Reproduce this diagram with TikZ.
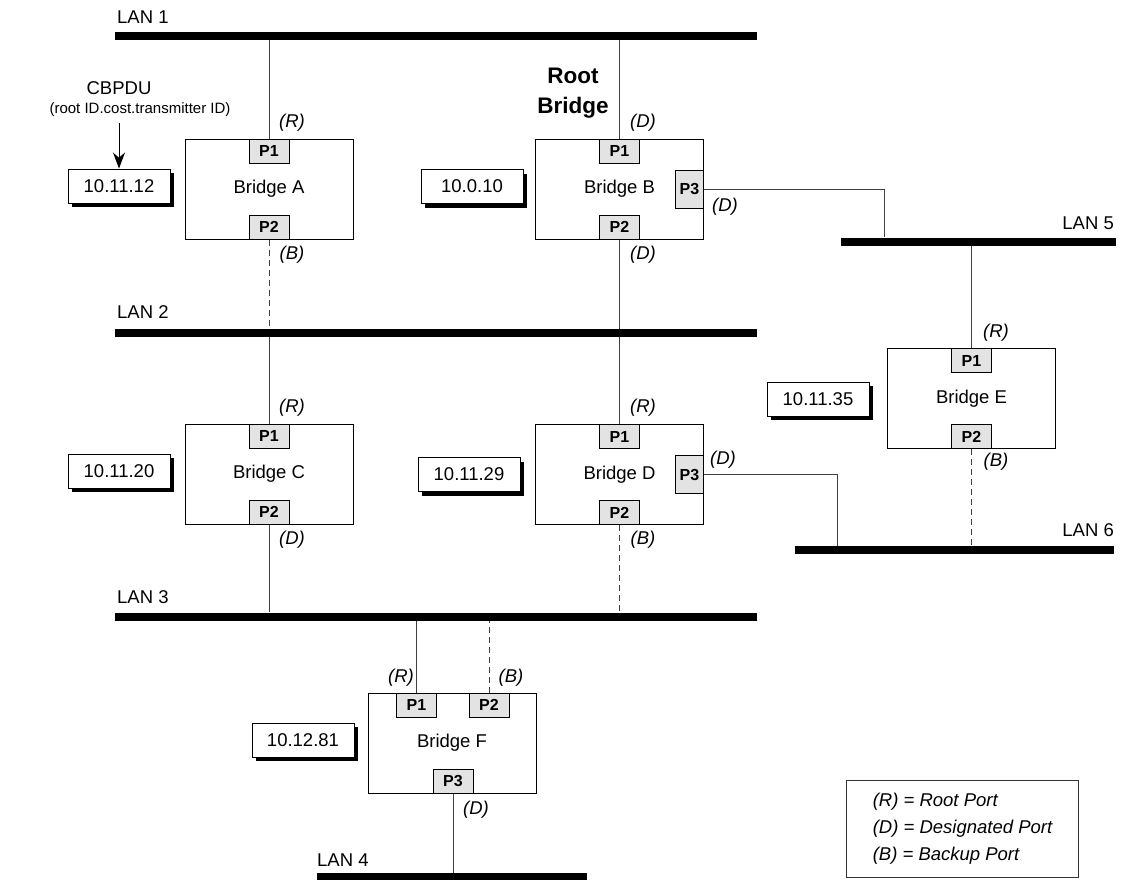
\documentclass[tikz,border=0pt]{standalone}
\usepackage{fontspec}
\setmainfont{Liberation Sans}
\usetikzlibrary{arrows.meta,shadows}

\tikzset{
  base/.style={font=\fontsize{18.5}{22}\selectfont},
  lan/.style={fill=black, inner sep=0pt, minimum height=8pt},
  lanlabel/.style={base, inner sep=0pt},
  bridge/.style={base, draw, line width=1pt, minimum width=168pt, minimum height=100pt},
  port/.style={draw, line width=1pt, fill=gray!22, font=\bfseries\fontsize{16}{18}\selectfont,
    minimum width=40pt, minimum height=24pt, inner sep=0pt},
  sideport/.style={port, minimum width=28pt, minimum height=38pt},
  idbox/.style={base, draw, line width=1pt, fill=white, minimum width=102pt, minimum height=34pt,
    drop shadow={shadow xshift=4pt, shadow yshift=-4pt, fill=black, opacity=1}},
  role/.style={font=\itshape\fontsize{18.5}{22}\selectfont},
  wire/.style={draw=black!75, line width=1pt},
  backup/.style={wire, dash pattern=on 6pt off 4pt},
}

\begin{document}
\begin{tikzpicture}[x=1pt, y=-1pt, >={Stealth[length=16pt,width=12pt]}]
    \useasboundingbox (0,0) rectangle (1122,879);

    % LAN segments
    \node[lan, minimum width=642pt] (lan1) at (436,36) {};
    \node[lan, minimum width=642pt] (lan2) at (436,333) {};
    \node[lan, minimum width=642pt] (lan3) at (436,616.5) {};
    \node[lan, minimum width=270pt] (lan4) at (452,877) {};
    \node[lan, minimum width=275pt] (lan5) at (978,241.5) {};
    \node[lan, minimum width=319pt] (lan6) at (954.5,550) {};
    \node[lanlabel, anchor=west] (lan1l) at (117,17) {LAN 1};
    \node[lanlabel, anchor=west] (lan2l) at (117,312) {LAN 2};
    \node[lanlabel, anchor=west] (lan3l) at (117,597) {LAN 3};
    \node[lanlabel, anchor=west] (lan4l) at (317,860) {LAN 4};
    \node[lanlabel, anchor=east] (lan5l) at (1114,223) {LAN 5};
    \node[lanlabel, anchor=east] (lan6l) at (1114,530) {LAN 6};

    % Bridges and their ports
    \node[bridge] (brA) at (269,189) {Bridge A};
    \node[port, anchor=north] (a1) at (brA.north) {P1};
    \node[port, anchor=south] (a2) at (brA.south) {P2};

    \node[bridge] (brB) at (619.5,189) {Bridge B};
    \node[port, anchor=north] (b1) at (brB.north) {P1};
    \node[port, anchor=south] (b2) at (brB.south) {P2};
    \node[sideport, anchor=east] (b3) at (brB.east) {P3};

    \node[bridge] (brC) at (269,474) {Bridge C};
    \node[port, anchor=north] (c1) at (brC.north) {P1};
    \node[port, anchor=south] (c2) at (brC.south) {P2};

    \node[bridge] (brD) at (619.5,474.5) {Bridge D};
    \node[port, anchor=north] (d1) at (brD.north) {P1};
    \node[port, anchor=south] (d2) at (brD.south) {P2};
    \node[sideport, anchor=east] (d3) at (brD.east) {P3};

    \node[bridge] (brE) at (971.5,398.5) {Bridge E};
    \node[port, anchor=north] (e1) at (brE.north) {P1};
    \node[port, anchor=south] (e2) at (brE.south) {P2};

    \node[bridge] (brF) at (452,743) {Bridge F};
    \node[port, anchor=north] (f1) at ([xshift=-35.5pt]brF.north) {P1};
    \node[port, anchor=north] (f2) at ([xshift=37pt]brF.north) {P2};
    \node[port, anchor=south] (f3) at ([xshift=1pt]brF.south) {P3};

    % Bridge IDs
    \node[idbox] (idA) at (119,186) {10.11.12};
    \node[idbox] (idB) at (472,186.5) {10.0.10};
    \node[idbox] (idC) at (119,471) {10.11.20};
    \node[idbox] (idD) at (469,474.5) {10.11.29};
    \node[idbox] (idE) at (818,399) {10.11.35};
    \node[idbox] (idF) at (303,740) {10.12.81};

    % CBPDU note
    \node[base] (cbpdu) at (119,88) {CBPDU};
    \node[font=\fontsize{15}{18}\selectfont] (cbpduf) at (140,110) {(root ID.cost.transmitter ID)};
    \coordinate (cbtop) at (119,123);
    \draw[->, line width=1pt] (cbtop) -- (idA.north);

    \node[font=\bfseries\fontsize{22.5}{30}\selectfont, align=center] (rootlbl) at (573,93) {Root\\Bridge};

    % Links
    \draw[wire] (a1.north) -- (a1.north |- lan1.south);
    \draw[backup] (a2.south) -- (a2.south |- lan2.north);
    \draw[wire] (b1.north) -- (b1.north |- lan1.south);
    \draw[wire] (b2.south) -- (b2.south |- lan2.north);
    \draw[wire] (b3.east) -| ([xshift=44pt]lan5.north west);
    \draw[wire] (c1.north) -- (c1.north |- lan2.south);
    \draw[wire] (c2.south) -- (c2.south |- lan3.north);
    \draw[wire] (d1.north) -- (d1.north |- lan2.south);
    \draw[backup] (d2.south) -- (d2.south |- lan3.north);
    \draw[wire] (d3.east) -| ([xshift=43pt]lan6.north west);
    \draw[wire] (e1.north) -- (e1.north |- lan5.south);
    \draw[backup] (e2.south) -- (e2.south |- lan6.north);
    \draw[wire] (f1.north) -- (f1.north |- lan3.south);
    \draw[backup] (f2.north) -- (f2.north |- lan3.south);
    \draw[wire] (f3.south) -- (f3.south |- lan4.north);

    % Port roles
    \node[role] (ra1) at (292,123) {(R)};
    \node[role] (ra2) at (292,255) {(B)};
    \node[role] (rb1) at (643,123) {(D)};
    \node[role] (rb2) at (643,255) {(D)};
    \node[role] (rb3) at (725,207) {(D)};
    \node[role] (rc1) at (292,408) {(R)};
    \node[role] (rc2) at (292,540) {(D)};
    \node[role] (rd1) at (643,408) {(R)};
    \node[role] (rd2) at (643,540) {(B)};
    \node[role] (rd3) at (723,460) {(D)};
    \node[role] (re1) at (996,333) {(R)};
    \node[role] (re2) at (996,462) {(B)};
    \node[role] (rf1) at (401,678) {(R)};
    \node[role] (rf2) at (511,678) {(B)};
    \node[role] (rf3) at (476,810) {(D)};

    % Key
    \node[draw=black!80, line width=1pt, anchor=north west, minimum width=232pt,
      minimum height=97pt, align=left, font=\itshape\fontsize{18.5}{27}\selectfont] (key) at (846,780)
      {(R) = Root Port\\(D) = Designated Port\\(B) = Backup Port};
\end{tikzpicture}
\end{document}
